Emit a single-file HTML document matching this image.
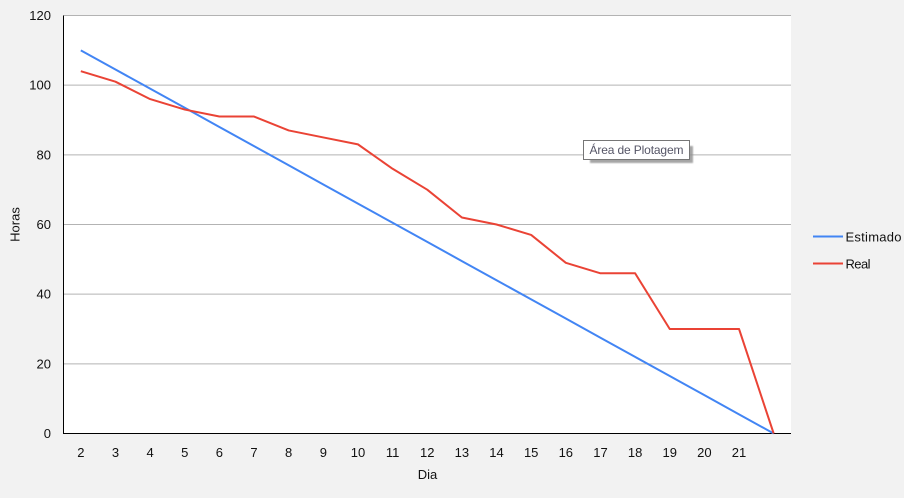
<!DOCTYPE html>
<html lang="pt">
<head>
<meta charset="utf-8">
<title>Horas por Dia</title>
<style>
html,body{margin:0;padding:0;background:#f2f2f2;}
body{width:904px;height:498px;overflow:hidden;}
svg{display:block;}
text{font-family:"Liberation Sans",sans-serif;font-size:13px;fill:#111111;}
</style>
</head>
<body>
<svg id="chart" width="904" height="498" viewBox="0 0 904 498"></svg>
<script>
const categories = ["2","3","4","5","6","7","8","9","10","11","12","13","14","15","16","17","18","19","20","21",""];
const estimado = [110,104.5,99,93.5,88,82.5,77,71.5,66,60.5,55,49.5,44,38.5,33,27.5,22,16.5,11,5.5,0];
const real = [104,101,96,93,91,91,87,85,83,76,70,62,60,57,49,46,46,30,30,30,0];
const yTicks = [0,20,40,60,80,100,120];

const NS = 'http://www.w3.org/2000/svg';
const svg = document.getElementById('chart');
const L = 63.5, R = 791, T = 15.5, B = 433.5, YMAX = 120;
const xScale = i => L + (R - L) * (i + 0.5) / categories.length;
const yScale = v => B - (B - T) * v / YMAX;

function make(tag, attrs, text) {
  const el = document.createElementNS(NS, tag);
  for (const k in attrs) el.setAttribute(k, attrs[k]);
  if (text !== undefined) el.textContent = text;
  svg.appendChild(el);
  return el;
}

const plot = make('rect', {x: L, y: T, width: R - L, height: B - T, fill: '#ffffff'});



yTicks.forEach(v => {
  const y = yScale(v);
  if (v !== 0) {
    const g = make('line', {x1: L, x2: R, y1: y, y2: y, stroke: '#b3b3b3', 'stroke-width': 1});
    
    
  }
  const t = make('text', {x: 51, y: y + 4.5, 'text-anchor': 'end'}, String(v));
  
  
});

categories.forEach((c, i) => {
  if (!c) return;
  const t = make('text', {x: xScale(i), y: 457, 'text-anchor': 'middle'}, c);
  
  
});

const yAxis = make('line', {x1: L, x2: L, y1: T, y2: B + 0.5, stroke: '#000000', 'stroke-width': 1});


const xAxis = make('line', {x1: L, x2: R, y1: B, y2: B, stroke: '#000000', 'stroke-width': 1});



function pathFor(values) {
  return values.map((v, i) => (i ? 'L' : 'M') + xScale(i).toFixed(2) + ' ' + yScale(v).toFixed(2)).join(' ');
}
const lineEstimado = make('path', {d: pathFor(estimado), fill: 'none', stroke: '#4285f4', 'stroke-width': 2, 'stroke-linejoin': 'round'});


const lineReal = make('path', {d: pathFor(real), fill: 'none', stroke: '#ea4335', 'stroke-width': 2, 'stroke-linejoin': 'round'});



const yTitle = make('text', {x: 0, y: 0, 'text-anchor': 'middle', transform: 'translate(19.5 224.5) rotate(-90)'}, 'Horas');


const xTitle = make('text', {x: 427.5, y: 479, 'text-anchor': 'middle'}, 'Dia');



const keyEstimado = make('line', {x1: 813, x2: 843, y1: 236.5, y2: 236.5, stroke: '#4285f4', 'stroke-width': 2});


const labelEstimado = make('text', {x: 845.5, y: 241.5, textLength: 56, lengthAdjust: 'spacing'}, 'Estimado');


const keyReal = make('line', {x1: 813, x2: 843, y1: 263.5, y2: 263.5, stroke: '#ea4335', 'stroke-width': 2});


const labelReal = make('text', {x: 845.5, y: 268.5, textLength: 25, lengthAdjust: 'spacing'}, 'Real');



const tipShadow = make('rect', {x: 590, y: 146, width: 103, height: 17, fill: '#8f8f8f', opacity: 0.8, style: 'filter:blur(0.8px)'});


const tipBox = make('rect', {x: 583.5, y: 140.5, width: 106, height: 19, fill: '#ffffff', stroke: '#767676', 'stroke-width': 1});


const tipText = make('text', {x: 589.5, y: 154, textLength: 94, lengthAdjust: 'spacing', style: 'font-size:12px;fill:#555566'}, 'Área de Plotagem');


</script>
</body>
</html>
